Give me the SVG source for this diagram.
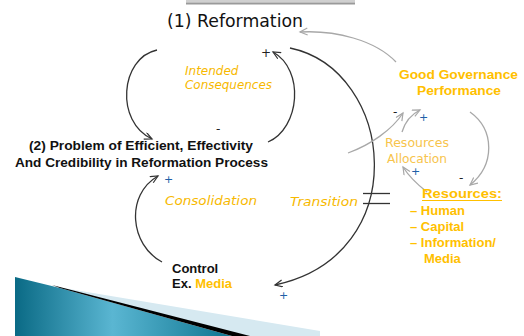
<svg xmlns="http://www.w3.org/2000/svg" width="524" height="336" viewBox="0 0 524 336">
<defs>
<marker id="ab" markerWidth="10" markerHeight="10" refX="8" refY="4" orient="auto" markerUnits="userSpaceOnUse"><path d="M0.5,0.5 L8,4 L0.5,7.5" fill="none" stroke="#333" stroke-width="1.2"/></marker>
<marker id="ag" markerWidth="10" markerHeight="10" refX="8" refY="4" orient="auto" markerUnits="userSpaceOnUse"><path d="M0.5,0.5 L8,4 L0.5,7.5" fill="none" stroke="#a8a8a8" stroke-width="1.2"/></marker>
<linearGradient id="teal" x1="0" y1="0" x2="1" y2="0">
<stop offset="0" stop-color="#0a6a85"/><stop offset="0.45" stop-color="#5ab6d2"/><stop offset="1" stop-color="#0e7590"/>
</linearGradient>
<style>
.d{fill:none;stroke:#333;stroke-width:1.3}
.g{fill:none;stroke:#a8a8a8;stroke-width:1.3}
.it{font-family:"DejaVu Sans",sans-serif;font-style:italic;font-size:12px;fill:#f7b900}
.b{font-family:"Liberation Sans",Arial,sans-serif;font-weight:bold;font-size:13px}
.o{fill:#ffc000}
.k{fill:#111}
.s{font-family:"DejaVu Sans",sans-serif;font-size:12px;fill:#222}
.sb{font-family:"DejaVu Sans",sans-serif;font-size:11px;fill:#1f5fa8}
</style>
</defs>
<rect width="524" height="336" fill="#fff"/>
<!-- title remnant -->
<rect x="186" y="0" width="169" height="2.5" fill="#d0d0d0"/>
<line x1="186" y1="3.5" x2="355" y2="3.5" stroke="#9a9a9a" stroke-width="2"/>
<!-- bottom-left decoration -->
<g id="decor">
<polygon points="57,287 320,331 320,336 240,336" fill="#d6e9f1"/>
<polygon points="15,277 60,288 232,336 15,336" fill="url(#teal)"/>
<polygon points="52,285 60,288 232,336 250,336" fill="#000"/>
</g>
<g id="connectors">
<path class="d" d="M157,50 C120,58 115,122 152,139" marker-end="url(#ab)"/>
<path class="d" d="M268,142 C300,128 305,70 273,52" marker-end="url(#ab)"/>
<path class="d" d="M290,48 C395,70 415,255 275,285" marker-end="url(#ab)"/>
<path class="d" d="M162,262 C130,245 125,195 158,176" marker-end="url(#ab)"/>
<line x1="363" y1="193.5" x2="390" y2="193.5" stroke="#333" stroke-width="1.3"/>
<line x1="363" y1="203.5" x2="390" y2="203.5" stroke="#333" stroke-width="1.3"/>
<path class="g" d="M396,62 C375,40 335,30 300,32" marker-end="url(#ag)"/>
<path class="g" d="M348,153 C370,145 392,130 403,113" marker-end="url(#ag)"/>
<path class="g" d="M402,132 C405,122 412,114 420,110" marker-end="url(#ag)"/>
<path class="g" d="M470,112 C495,130 495,165 470,185" marker-end="url(#ag)"/>
<path class="g" d="M427,192 C418,185 410,178 403,167" marker-end="url(#ag)"/>
</g>
<g id="signs">
<text class="s" x="261" y="57">+</text>
<text class="s" x="216" y="133">-</text>
<text class="sb" x="164" y="183">+</text>
<text class="sb" x="279" y="299">+</text>
<text class="s" x="393" y="116">-</text>
<text class="sb" x="419" y="121">+</text>
<text class="s" x="459" y="182">-</text>
<text class="sb" x="411" y="175">+</text>
</g>
<g id="n-reformation">
<text x="167" y="27" font-family="DejaVu Sans,sans-serif" font-size="17" fill="#111" textLength="136" lengthAdjust="spacingAndGlyphs">(1) Reformation</text>
</g>
<g id="n-intended">
<text class="it" x="185" y="75">Intended</text>
<text class="it" x="185" y="89" textLength="87" lengthAdjust="spacingAndGlyphs">Consequences</text>
</g>
<g id="n-problem">
<text class="b k" x="29" y="150" textLength="224" lengthAdjust="spacingAndGlyphs">(2) Problem of Efficient, Effectivity</text>
<text class="b k" x="15" y="167" textLength="253" lengthAdjust="spacingAndGlyphs">And Credibility in Reformation Process</text>
</g>
<g id="n-consolidation">
<text class="it" x="165" y="205" textLength="92" lengthAdjust="spacingAndGlyphs">Consolidation</text>
</g>
<g id="n-transition">
<text class="it" x="290" y="206" textLength="68" lengthAdjust="spacingAndGlyphs">Transition</text>
</g>
<g id="n-control">
<text class="b k" x="172" y="273">Control</text>
<text class="b" x="172" y="288"><tspan class="k">Ex. </tspan><tspan class="o">Media</tspan></text>
</g>
<g id="n-goodgov">
<text class="b o" x="399" y="79" textLength="119" lengthAdjust="spacingAndGlyphs">Good Governance</text>
<text class="b o" x="417" y="95" textLength="84" lengthAdjust="spacingAndGlyphs">Performance</text>
</g>
<g id="n-allocation">
<text x="385" y="147" font-family="DejaVu Sans,sans-serif" font-size="12" fill="#f7c44c" textLength="64" lengthAdjust="spacingAndGlyphs">Resources</text>
<text x="387" y="163" font-family="DejaVu Sans,sans-serif" font-size="12" fill="#f7c44c" textLength="60" lengthAdjust="spacingAndGlyphs">Allocation</text>
</g>
<g id="n-resources">
<text class="b o" x="422" y="198" font-size="14" textLength="80" lengthAdjust="spacingAndGlyphs">Resources:</text>
<line x1="422" y1="200.5" x2="502" y2="200.5" stroke="#ffc000" stroke-width="1.2"/>
<text class="b o" x="410" y="215">– Human</text>
<text class="b o" x="410" y="231">– Capital</text>
<text class="b o" x="410" y="247">– Information/</text>
<text class="b o" x="424" y="263">Media</text>
</g>
</svg>
